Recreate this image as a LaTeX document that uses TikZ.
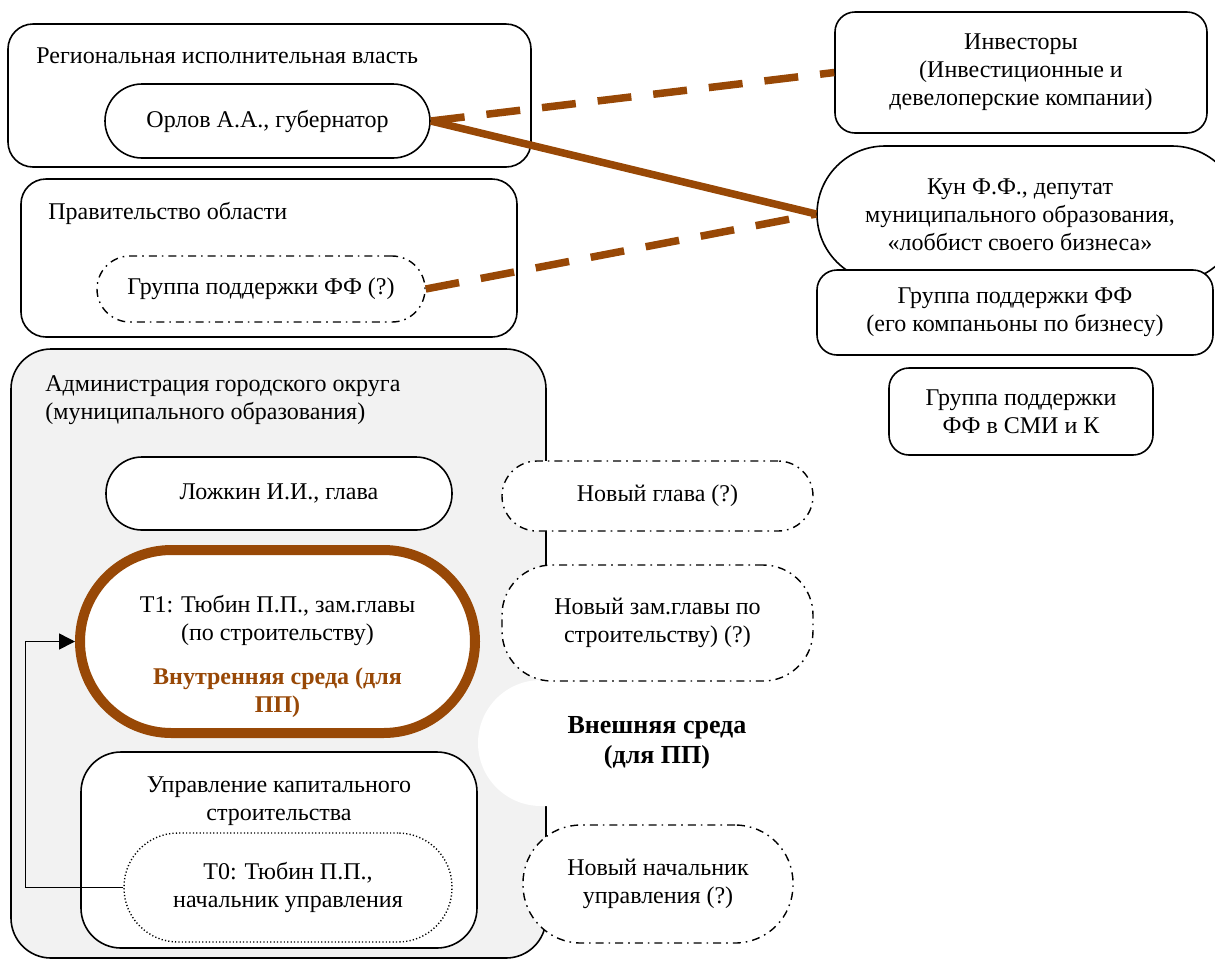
\documentclass[tikz,border=0pt]{standalone}
\usepackage{fontspec}
\setmainfont{Liberation Serif}
\usepackage{xcolor}
\definecolor{linkbrown}{RGB}{152,72,6}
\definecolor{admingray}{RGB}{242,242,242}
\usetikzlibrary{arrows.meta,positioning}

\begin{document}
\begin{tikzpicture}[
    x=0.5pt, y=-0.5pt,
    every node/.style={font=\fontsize{12}{14}\selectfont},
    panel/.style={draw, rectangle, rounded corners=12.5pt, line width=0.8pt, inner sep=0pt},
    person/.style={draw, rectangle, line width=0.8pt, fill=white, align=center, inner sep=0pt},
    vacant/.style={person, line width=0.7pt, dash pattern=on 4pt off 2.5pt on 0.8pt off 2.5pt},
    caption/.style={inner sep=0pt, align=left, anchor=west},
    link/.style={draw=linkbrown, line width=3.75pt},
    dashlink/.style={link, dash pattern=on 17pt off 11pt},
    arrow/.style={-{Triangle[length=8pt,width=8pt]}, line width=0.8pt}
]
\useasboundingbox (0,0) rectangle (1215,960);

% Regional level
\node[panel, minimum width=261.5pt, minimum height=71.5pt] (regional) at (269.5,95.5) {};
\node[caption] (regional_label) at (36,56) {Региональная исполнительная власть};
\node[person, rounded corners=18.5pt, minimum width=162.5pt, minimum height=37pt] (orlov) at (267.5,121) {Орлов А.А., губернатор};

\node[panel, minimum width=248pt, minimum height=79pt] (government) at (269,258) {};
\node[caption] (government_label) at (48,213) {Правительство области};
\node[vacant, rounded corners=16.5pt, minimum width=164pt, minimum height=33pt] (gov_support) at (261,289) {Группа поддержки ФФ (?)};

% Municipal administration
\node[panel, fill=admingray, rounded corners=20pt, minimum width=267.5pt, minimum height=304.5pt] (admin) at (278.5,653.5) {};
\node[caption] (admin_label) at (45,400) {Администрация городского округа\\(муниципального образования)};
\node[person, rounded corners=18pt, minimum width=173pt, minimum height=36.5pt] (lozhkin) at (279,493.5) {Ложкин И.И., глава};

\node[person, draw=linkbrown, line width=5pt, rounded corners=45.75pt, minimum width=197.5pt, minimum height=91.5pt] (t1) at (277.5,641.5) {};
\node[align=center] (t1_text) at (277.5,656) {Т1: Тюбин П.П., зам.главы\\(по строительству)\\[8pt]\textcolor{linkbrown}{\textbf{Внутренняя среда (для}}\\\textcolor{linkbrown}{\textbf{ПП)}}};

\node[panel, fill=white, rounded corners=20pt, minimum width=198pt, minimum height=98pt] (construction) at (279,850) {};
\node[align=center] (construction_label) at (279,801) {Управление капитального\\строительства};
\node[person, line width=0.7pt, dash pattern=on 0.6pt off 1.1pt, rounded corners=27pt, minimum width=164pt, minimum height=54.5pt] (t0) at (288,887.5) {Т0: Тюбин П.П.,\\начальник управления};

% Possible successors
\node[vacant, rounded corners=17.5pt, minimum width=155.5pt, minimum height=35pt] (new_head) at (657.5,496) {Новый глава (?)};
\node[fill=white, rounded corners=31.5pt, minimum width=179pt, minimum height=63pt, align=center, font=\fontsize{13}{15}\selectfont\bfseries] (external) at (657,743) {Внешняя среда\\(для ПП)};
\node[vacant, rounded corners=25pt, minimum width=155.5pt, minimum height=58pt] (new_deputy) at (657.5,623) {Новый зам.главы по\\строительству) (?)};
\node[vacant, rounded corners=29pt, minimum width=135pt, minimum height=59pt] (new_chief) at (658,884) {Новый начальник\\управления (?)};

% Outside actors
\node[person, rounded corners=10pt, minimum width=186pt, minimum height=60.5pt] (investors) at (1021,72.5) {Инвесторы\\(Инвестиционные и\\девелоперские компании)};
\node[person, rounded corners=34pt, minimum width=211.5pt, minimum height=68pt] (kun) at (1028.5,214) {};
\node[align=center] (kun_text) at (1020,215) {Кун Ф.Ф., депутат\\муниципального образования,\\«лоббист своего бизнеса»};
\node[person, rounded corners=10pt, minimum width=198pt, minimum height=42.5pt] (partners) at (1015,312.5) {Группа поддержки ФФ\\(его компаньоны по бизнесу)};
\node[person, rounded corners=10pt, minimum width=132pt, minimum height=43.5pt] (media) at (1021,411.5) {Группа поддержки\\ФФ в СМИ и К};

% Links
\draw[dashlink] (orlov.east) -- (investors.west);
\draw[link] (orlov.east) -- (kun.west);
\draw[dashlink] (gov_support.east) -- (kun.west);
\draw[arrow] (t0.west) -- ++(-98,0) |- (t1.west);

\end{tikzpicture}
\end{document}
